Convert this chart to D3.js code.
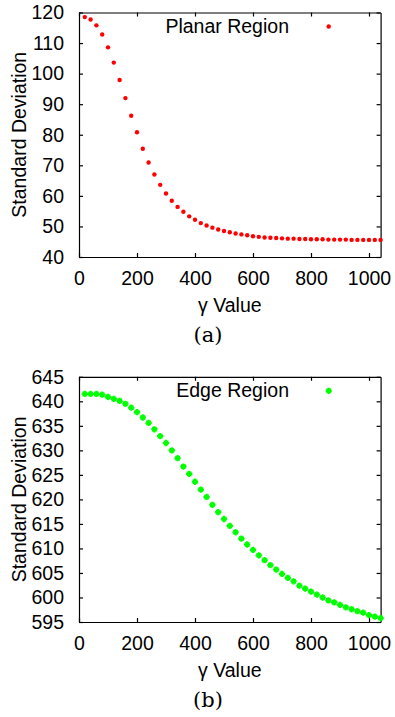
<!DOCTYPE html>
<html>
<head>
<meta charset="utf-8">
<script src="https://cdn.jsdelivr.net/npm/d3@7"></script>
<style>
  body { margin: 0; background: #fff; }
  svg { display: block; }
  .tick text { font-family: "Liberation Sans", Arial, sans-serif; font-size: 19.5px; fill: #000; }
  .domain, .tick line { stroke: #000; stroke-width: 1.2; }
  .lbl { font-family: "Liberation Sans", Arial, sans-serif; font-size: 19.5px; fill: #000; }
  .cap { font-family: "DejaVu Serif", "Liberation Serif", serif; font-size: 21px; fill: #000; }
</style>
</head>
<body>
<svg id="chart" width="395" height="717"></svg>
<script>
const gammaValues = [20, 40, 60, 80, 100, 120, 140, 160, 180, 200,
  220, 240, 260, 280, 300, 320, 340, 360, 380, 400,
  420, 440, 460, 480, 500, 520, 540, 560, 580, 600,
  620, 640, 660, 680, 700, 720, 740, 760, 780, 800,
  820, 840, 860, 880, 900, 920, 940, 960, 980, 1000, 1020, 1040]

const planarStd = [118.5, 117.7, 115.8, 112.8, 108.6, 103.6, 97.9, 92.0, 86.2, 80.8,
  75.4, 70.9, 67.0, 63.6, 60.8, 58.4, 56.4, 54.8, 53.3, 52.2,
  51.1, 50.3, 49.6, 49.0, 48.5, 48.1, 47.7, 47.4, 47.1, 46.8,
  46.6, 46.4, 46.3, 46.2, 46.1, 46.0, 46.0, 45.9, 45.9, 45.8,
  45.8, 45.8, 45.7, 45.7, 45.7, 45.7, 45.6, 45.6, 45.6, 45.6, 45.6, 45.6]

const edgeStd = [641.5, 641.5, 641.5, 641.35, 640.9, 640.5, 640.1, 639.5, 638.7, 637.8,
  636.7, 635.6, 634.3, 632.9, 631.5, 630.0, 628.4, 626.7, 625.2, 623.6,
  622.0, 620.5, 618.9, 617.4, 616.0, 614.6, 613.3, 612.0, 610.8, 609.7,
  608.6, 607.6, 606.6, 605.7, 604.8, 604.0, 603.3, 602.4, 601.8, 601.2,
  600.6, 600.0, 599.4, 599.0, 598.5, 598.0, 597.6, 597.2, 596.9, 596.4, 596.1, 595.8]

const xTicks = [0, 200, 400, 600, 800, 1000]
const planarTicks = [40, 50, 60, 70, 80, 90, 100, 110, 120]
const edgeTicks = [595, 600, 605, 610, 615, 620, 625, 630, 635, 640, 645]

const panels = [
  { top: 12.5, bottom: 257, yDomain: [40, 120], yTicks: planarTicks, values: planarStd,
    legend: "Planar Region", colour: "#ff0000", marker: "circle", caption: "(a)" },
  { top: 376.8, bottom: 622, yDomain: [595, 645], yTicks: edgeTicks, values: edgeStd,
    legend: "Edge Region", colour: "#00ff00", marker: "cross", caption: "(b)" },
]

const left = 79
const right = 380.6
const svg = d3.select("#chart")
const fmt = d3.format("d")

for (const p of panels) {
  const x = d3.scaleLinear().domain([0, 1040]).range([left, right])
  const y = d3.scaleLinear().domain(p.yDomain).range([p.bottom, p.top])
  const g = svg.append("g")

  g.append("g")
    .attr("transform", `translate(0,${p.bottom})`)
    .call(d3.axisBottom(x).tickValues(xTicks).tickFormat(fmt).tickSizeInner(-4).tickSizeOuter(0).tickPadding(14))
  g.append("g")
    .attr("transform", `translate(0,${p.top})`)
    .call(d3.axisTop(x).tickValues(xTicks).tickSizeInner(-4).tickSizeOuter(0).tickFormat(""))
  g.append("g")
    .attr("transform", `translate(${left},0)`)
    .call(d3.axisLeft(y).tickValues(p.yTicks).tickFormat(fmt).tickSizeInner(-4).tickSizeOuter(0).tickPadding(15))
  g.append("g")
    .attr("transform", `translate(${right},0)`)
    .call(d3.axisRight(y).tickValues(p.yTicks).tickSizeInner(-4).tickSizeOuter(0).tickFormat(""))

  g.selectAll(".tick text").attr("font-family", null).attr("font-size", null)

  const pts = gammaValues.map((gv, i) => ({ gamma: gv, value: p.values[i] }))
  const drawMarker = (sel) => {
    if (p.marker === "circle") {
      sel.append("circle").attr("r", 2.2).attr("fill", p.colour)
    } else {
      sel.append("rect").attr("x", -2.4).attr("y", -2.4).attr("width", 4.8).attr("height", 4.8).attr("fill", p.colour)
      sel.append("path").attr("d", d3.symbol(d3.symbolCross, 22)()).attr("fill", p.colour)
    }
  }

  g.append("g")
    .selectAll("g")
    .data(pts)
    .join("g")
    .attr("transform", (d) => `translate(${x(d.gamma)},${y(d.value)})`)
    .call(drawMarker)

  // legend
  g.append("text")
    .attr("class", "lbl")
    .attr("x", 289)
    .attr("y", p.top + 20)
    .attr("text-anchor", "end")
    .text(p.legend)
  g.append("g")
    .attr("transform", `translate(328.7,${p.top + 14})`)
    .call(drawMarker)

  // axis titles
  g.append("text")
    .attr("class", "lbl")
    .attr("transform", `translate(26,${(p.top + p.bottom) / 2}) rotate(-90)`)
    .attr("text-anchor", "middle")
    .text("Standard Deviation")
  g.append("text")
    .attr("class", "lbl")
    .attr("x", (left + right) / 2)
    .attr("y", p.bottom + 55)
    .attr("text-anchor", "middle")
    .text("γ Value")
  g.append("text")
    .attr("class", "cap")
    .attr("x", 208)
    .attr("y", p.bottom + 85)
    .attr("text-anchor", "middle")
    .text(p.caption)
}
</script>
</body>
</html>
